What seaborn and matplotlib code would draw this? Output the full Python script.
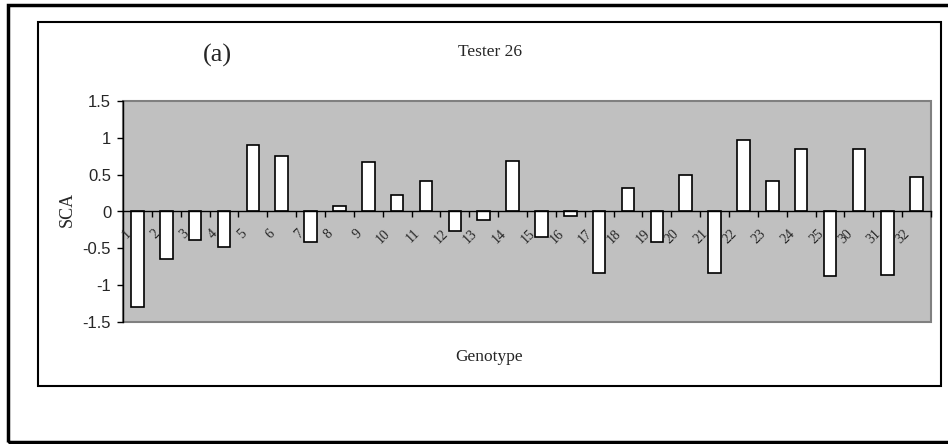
import matplotlib
matplotlib.use("Agg")
import matplotlib.pyplot as plt
from matplotlib.patches import Rectangle
import numpy as np
import pandas as pd
import seaborn as sns

# Genotypes crossed with tester 26 and their specific combining ability
genotypes = ["1", "2", "3", "4", "5", "6", "7", "8", "9", "10", "11", "12", "13", "14",
             "15", "16", "17", "18", "19", "20", "21", "22", "23", "24", "25", "30", "31", "32"]
sca = [-1.30, -0.65, -0.39, -0.48, 0.90, 0.75, -0.41, 0.07, 0.67, 0.23, 0.42, -0.27, -0.12, 0.69,
       -0.34, -0.055, -0.83, 0.32, -0.41, 0.49, -0.83, 0.97, 0.42, 0.85, -0.88, 0.85, -0.86, 0.47]
y_ticks = [-1.5, -1, -0.5, 0, 0.5, 1, 1.5]
y_tick_labels = ["-1.5", "-1", "-0.5", "0", "0.5", "1", "1.5"]

sns.set_theme(style="white")
plt.rcParams["font.family"] = ["Liberation Serif", "DejaVu Serif"]

W, H = 948, 444
fig = plt.figure(figsize=(W / 100, H / 100), dpi=100)
fig.patch.set_facecolor("white")


def frac(x0, y0, x1, y1):
    return [x0 / W, 1 - y1 / H, (x1 - x0) / W, (y1 - y0) / H]


ax = fig.add_axes(frac(123, 101, 931, 322))
df = pd.DataFrame({"Genotype": genotypes, "SCA": sca})
sns.barplot(data=df, x="Genotype", y="SCA", order=genotypes, color="white",
            saturation=1, edgecolor="black", linewidth=1.2, width=0.44, ax=ax)

n = len(genotypes)
ax.set_xlim(-0.5, n - 0.5)
ax.set_ylim(-1.5, 1.5)
ax.set_facecolor("#C0C0C0")
ax.set_axisbelow(False)
ax.set_xlabel("")
ax.set_ylabel("")

# plot-area frame in gray, axes in black
ax.add_patch(Rectangle((0, 0), 1, 1, transform=ax.transAxes, fill=False,
                       edgecolor="#808080", linewidth=1.5, zorder=0.5, clip_on=False))
for side in ("top", "right"):
    ax.spines[side].set_visible(False)
ax.spines["bottom"].set_position(("data", 0))
ax.spines["bottom"].set_color("black")
ax.spines["bottom"].set_linewidth(1.0)
ax.spines["left"].set_color("black")
ax.spines["left"].set_linewidth(1.0)

ax.set_yticks(y_ticks, y_tick_labels)
ax.tick_params(axis="y", which="major", direction="out", length=4, width=1, color="black",
               pad=4.5, labelsize=12, labelfontfamily="Liberation Sans", left=True)

# category labels sit just left of each bar, boundary ticks between categories
ax.set_xticks(np.arange(n) - 0.46, genotypes)
ax.set_xticks(np.arange(0.5, n, 1.0), minor=True)
ax.tick_params(axis="x", which="major", length=0, pad=11, bottom=True)
ax.tick_params(axis="x", which="minor", direction="out", length=4, width=1,
               color="black", bottom=True)
for lab in ax.get_xticklabels():
    lab.set_rotation(45)
    lab.set_ha("right")
    lab.set_va("top")
    lab.set_rotation_mode("anchor")
    lab.set_fontsize(10)
    lab.set_fontfamily("Liberation Serif")

# chart texts
fig.text(67 / W, 1 - 209 / H, "SCA", rotation=90, ha="center", va="center", fontsize=13)
fig.text(490 / W, 1 - 52 / H, "Tester 26", ha="center", va="center", fontsize=12.5)
fig.text(217 / W, 1 - 55 / H, "(a)", ha="center", va="center", fontsize=19)
fig.text(489 / W, 1 - 357 / H, "Genotype", ha="center", va="center", fontsize=12.5)

# chart and outer borders
fig.patches.append(Rectangle((38 / W, 1 - 386 / H), (941 - 38) / W, (386 - 22) / H,
                             transform=fig.transFigure, fill=False, edgecolor="black",
                             linewidth=1.5))
fig.patches.append(Rectangle((8 / W, 1 - 442 / H), (952 - 8) / W, (442 - 5) / H,
                             transform=fig.transFigure, fill=False, edgecolor="black",
                             linewidth=2.5))

fig.savefig("out.png", dpi=100)
